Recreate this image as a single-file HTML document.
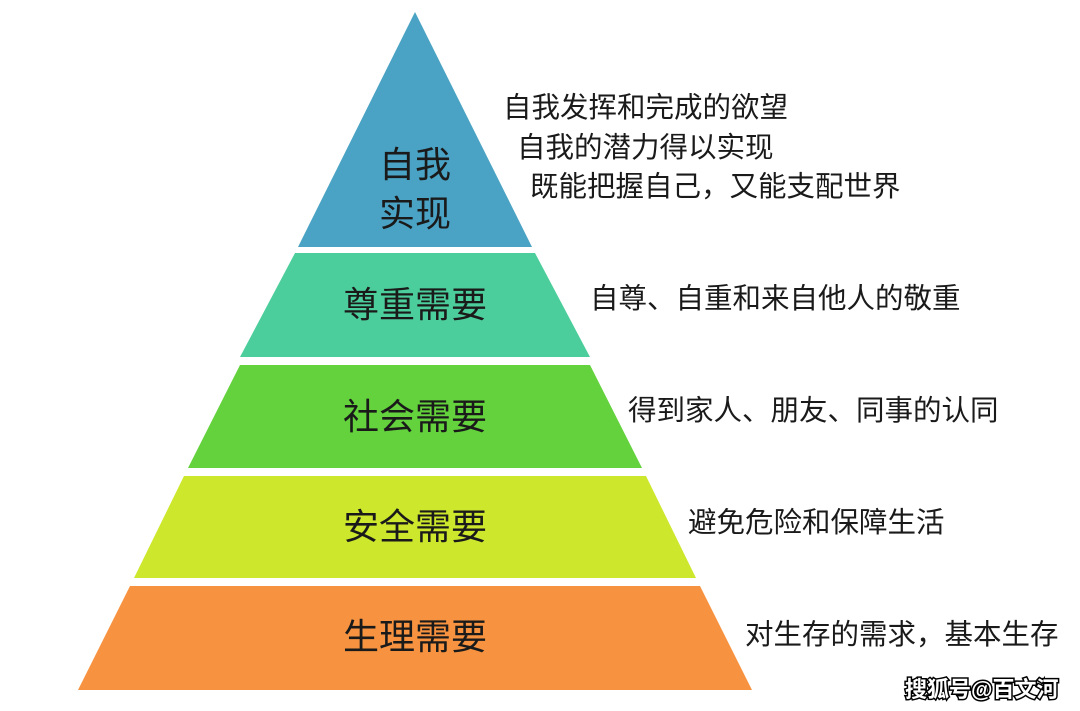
<!DOCTYPE html>
<html><head><meta charset="utf-8"><style>
html,body{margin:0;padding:0;background:#fff;width:1080px;height:711px;overflow:hidden}
svg{display:block}
text{font-family:"Liberation Sans","Noto Sans CJK SC",sans-serif;fill:#1a1a1a}
</style></head><body>
<svg width="1080" height="711" viewBox="0 0 1080 711">
<polygon points="415,12 532,247 298,247" fill="#4aa3c4"/>
<polygon points="295,253 535,253 590,357 240,357" fill="#4cce9c"/>
<polygon points="240,365 590,365 642,468 188,468" fill="#63d23c"/>
<polygon points="184,476 646,476 696,578 134,578" fill="#cde72c"/>
<polygon points="130,586 700,586 752,690 78,690" fill="#f79340"/>
<g font-size="36" text-anchor="middle">
<text x="415" y="177">自我</text>
<text x="415" y="226">实现</text>
<text x="415" y="317">尊重需要</text>
<text x="415" y="429">社会需要</text>
<text x="415" y="539">安全需要</text>
<text x="415" y="649">生理需要</text>
</g>
<g font-size="28.5">
<text x="503" y="117">自我发挥和完成的欲望</text>
<text x="517" y="157">自我的潜力得以实现</text>
<text x="530" y="196">既能把握自己，又能支配世界</text>
<text x="590" y="308">自尊、自重和来自他人的敬重</text>
<text x="628" y="420">得到家人、朋友、同事的认同</text>
<text x="688" y="532">避免危险和保障生活</text>
<text x="745" y="644">对生存的需求，基本生存</text>
</g>
<text x="905" y="697" font-size="22" font-weight="bold" style="fill:#fff;stroke:#000;stroke-width:3;paint-order:stroke">搜狐号@百文河</text>
</svg>
</body></html>
